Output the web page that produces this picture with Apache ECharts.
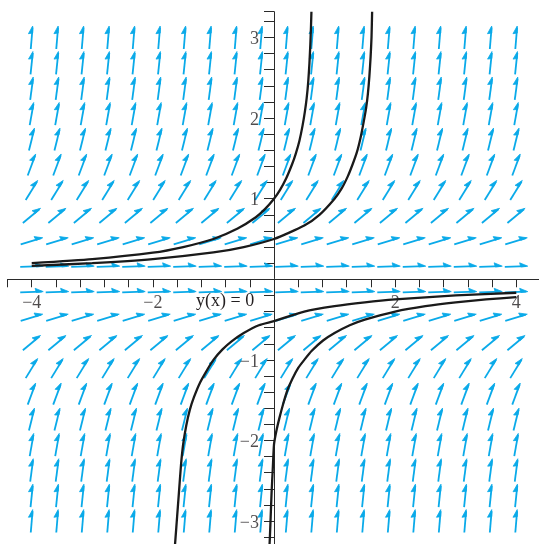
<!DOCTYPE html>
<html>
<head>
<meta charset="utf-8">
<script src="https://cdn.jsdelivr.net/npm/echarts@6/dist/echarts.min.js"></script>
<style>html,body{margin:0;padding:0;background:#fff}#c{width:539px;height:544px}</style>
</head>
<body>
<div id="c"></div>
<script>
// Direction field grid (columns, rows) and the slope read for each row
const arrowColX = [-4, -3.579, -3.158, -2.737, -2.316, -1.895, -1.474, -1.053, -0.632, -0.211,
                   0.211, 0.632, 1.053, 1.474, 1.895, 2.316, 2.737, 3.158, 3.579, 4];
const arrowRowY = [-3, -2.684, -2.368, -2.053, -1.737, -1.421, -1.105, -0.789, -0.474, -0.158,
                   0.158, 0.474, 0.789, 1.105, 1.421, 1.737, 2.053, 2.368, 2.684, 3];
const arrowRowSlope = [9, 7.2, 5.61, 4.21, 3.02, 2.02, 1.22, 0.623, 0.224, 0.025,
                       0.025, 0.224, 0.623, 1.22, 2.02, 3.02, 4.21, 5.61, 7.2, 9];

// Solution curves
const curveA = [[-4,0.20],[-3,0.25],[-2,0.33],[-1.5,0.40],[-1,0.50],[-0.6,0.63],[-0.3,0.77],[-0.15,0.87],[0,1.0],
                [0.1,1.11],[0.2,1.25],[0.3,1.43],[0.36,1.56],[0.42,1.72],[0.47,1.9],[0.51,2.08],[0.54,2.25],
                [0.565,2.45],[0.585,2.68],[0.6,2.92],[0.61,3.12],[0.618,3.32]];
const curveB = [[-4,0.167],[-3,0.2],[-2,0.25],[-1,0.333],[-0.5,0.4],[0,0.5],[0.5,0.667],[0.75,0.8],[1.0,1.0],
                [1.12,1.13],[1.22,1.28],[1.3,1.43],[1.37,1.58],[1.43,1.76],[1.48,1.95],[1.52,2.12],
                [1.55,2.3],[1.575,2.52],[1.595,2.76],[1.61,3.0],[1.62,3.32]];
const curveC = [[-1.645,-3.4],[-1.625,-3.2],[-1.6,-2.95],[-1.57,-2.65],[-1.535,-2.3],[-1.5,-2.05],[-1.45,-1.82],
                [-1.39,-1.62],[-1.32,-1.46],[-1.22,-1.28],[-1.1,-1.12],[-1.0,-1.0],[-0.85,-0.87],[-0.7,-0.77],
                [-0.5,-0.667],[-0.25,-0.57],[0,-0.52],[0.5,-0.4],[1,-0.333],[1.5,-0.286],[2,-0.25],[3,-0.2],[4,-0.167]];
const curveD = [[-0.08,-3.4],[-0.068,-3.2],[-0.055,-2.95],[-0.04,-2.65],[-0.02,-2.35],[0,-2.05],[0.04,-1.88],
                [0.09,-1.72],[0.15,-1.55],[0.22,-1.38],[0.3,-1.24],[0.4,-1.1],[0.5,-1.0],[0.62,-0.89],
                [0.81,-0.76],[1.0,-0.667],[1.25,-0.57],[1.5,-0.5],[2,-0.4],[2.5,-0.333],[3,-0.286],[3.5,-0.25],[4,-0.222]];

const xLabelValues = [-4, -2, 2, 4];
const yLabelValues = [-3, -2, -1, 1, 2, 3];
const annotationText = 'y(x) = 0';

const arrowColor = '#0AAAE9';
const arrowData = [];
arrowRowY.forEach((y, j) => arrowColX.forEach(x => arrowData.push([x, y, arrowRowSlope[j]])));

function fmtNum(v) { return v < 0 ? '\u2212' + Math.abs(v) : String(v); }

const axisColor = '#2a2a2a';
const labelFont = { fontFamily: 'Liberation Serif', fontSize: 18, color: '#231f20' };

const chart = echarts.init(document.getElementById('c'), null, { renderer: 'canvas' });
chart.setOption({
  animation: false,
  backgroundColor: '#fff',
  grid: { left: 7.5, top: 11.7, width: 533, height: 541.6, containLabel: false, outerBoundsMode: 'none' },
  xAxis: {
    type: 'value', min: -4.4, max: 4.4, interval: 0.4,
    axisLine: { show: true, onZero: true, lineStyle: { color: axisColor, width: 1 } },
    axisTick: { show: true, length: 8, lineStyle: { color: axisColor, width: 1 } },
    axisLabel: { show: false },
    splitLine: { show: false }
  },
  yAxis: {
    type: 'value', min: -3.4, max: 3.32, interval: 0.2,
    axisLine: { show: true, onZero: true, lineStyle: { color: axisColor, width: 1 } },
    axisTick: { show: true, length: 10, lineStyle: { color: axisColor, width: 1 } },
    axisLabel: { show: false },
    splitLine: { show: false }
  },
  series: [
    {
      type: 'custom',
      coordinateSystem: 'cartesian2d',
      data: arrowData,
      encode: { x: 0, y: 1 },
      clip: false,
      z: 2,
      renderItem: function (params, api) {
        const x = api.value(0), y = api.value(1), s = api.value(2);
        const c = api.coord([x, y]);
        const d = 0.05;
        const c2 = api.coord([x + d, y + s * d]);
        let dx = c2[0] - c[0], dy = c2[1] - c[1];
        const L = Math.hypot(dx, dy);
        const ux = dx / L, uy = dy / L;
        const nx = uy, ny = -ux;
        const half = 11.5;
        const t0 = [c[0] - half * ux, c[1] - half * uy];
        const t1 = [c[0] + half * ux, c[1] + half * uy];
        const A = [t1[0] - 8 * ux + 3.6 * nx, t1[1] - 8 * uy + 3.6 * ny];
        const B = [t1[0] - 7 * ux - 0.6 * nx, t1[1] - 7 * uy - 0.6 * ny];
        return {
          type: 'group',
          children: [
            { type: 'line', shape: { x1: t0[0], y1: t0[1], x2: t1[0] - 1.5 * ux, y2: t1[1] - 1.5 * uy },
              style: { stroke: arrowColor, lineWidth: 1.8, lineCap: 'butt' } },
            { type: 'polygon', shape: { points: [t1, A, B] }, style: { fill: arrowColor, stroke: arrowColor, lineWidth: 0.8, lineJoin: 'round' } }
          ]
        };
      }
    },
    ...[curveA, curveB, curveC, curveD].map(data => ({
      type: 'line', data: data, showSymbol: false, smooth: 0.2,
      lineStyle: { color: '#1a1a1a', width: 2.3 }, z: 5, silent: true
    })),
    {
      type: 'scatter', symbolSize: 0, silent: true, z: 6,
      data: xLabelValues.map(v => [v, 0]),
      label: Object.assign({ show: true, position: 'bottom', distance: 15,
        formatter: p => fmtNum(p.value[0]) }, labelFont)
    },
    {
      type: 'scatter', symbolSize: 0, silent: true, z: 6,
      data: yLabelValues.map(v => [0, v]),
      label: Object.assign({ show: true, position: 'left', distance: 15, offset: [0, 2],
        formatter: p => fmtNum(p.value[1]) }, labelFont)
    }
  ],
  graphic: [
    { type: 'text', left: 196, top: 292, z: 10,
      style: { text: annotationText, font: '18px "Liberation Serif"', fill: '#231f20' } }
  ]
});
</script>
</body>
</html>
